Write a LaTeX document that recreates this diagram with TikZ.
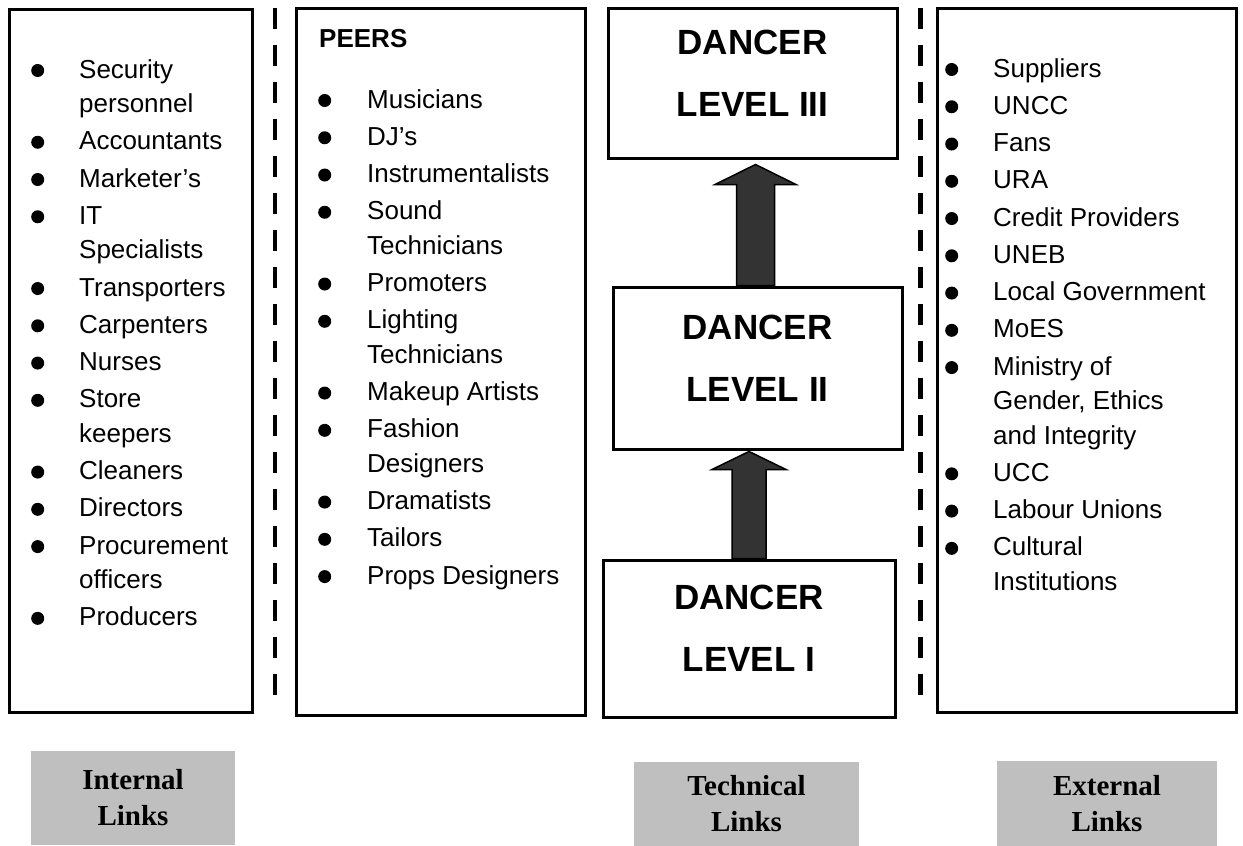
\documentclass[tikz,border=0pt]{standalone}
\usepackage{fontspec}
\setmainfont{Liberation Sans}
\newfontfamily\serifbold{Liberation Serif}
\usepackage{array}
\usetikzlibrary{calc}

\definecolor{linkgray}{RGB}{191,191,191}
\definecolor{arrowfill}{RGB}{51,51,51}
\newcommand{\blt}{\tikz[baseline=-7.5pt]\fill (6.5pt,0pt) circle (6.5pt);}
\newcommand{\listfont}{\fontsize{26}{34.5}\selectfont}
\renewcommand{\arraystretch}{1.08}

\begin{document}
\begin{tikzpicture}[x=1pt,y=1pt,
    box/.style={draw, line width=3pt, inner sep=0pt},
    level/.style={box, font=\fontsize{35}{62}\selectfont\bfseries, align=center, text depth=20pt},
    itemlist/.style={anchor=base west, inner sep=0pt, font=\listfont},
    divider/.style={line width=4.5pt, dash pattern=on 21pt off 16pt},
    uparrow/.style={draw=black, fill=arrowfill, line width=1.5pt, line join=miter},
    linkbox/.style={fill=linkgray, inner sep=0pt, align=center,
        font=\fontsize{29}{36}\selectfont\serifbold\bfseries}]
    \useasboundingbox (0,0) rectangle (1243,-846);
    % Outer columns
    \node[box, minimum width=243pt, minimum height=703pt] (intbox) at (130.5,-360.5) {};
    \node[box, minimum width=289pt, minimum height=707pt] (peerbox) at (440.5,-361.5) {};
    \node[box, minimum width=299pt, minimum height=704pt] (extbox) at (1086.5,-360) {};
    % Separators
    \draw[divider] (275,-8) -- (275,-695);
    \draw[divider] (920.5,-8) -- (920.5,-695);
    % Internal links
    \node[itemlist] (intlist) at (31,-78) {%
        \begin{tabular}[t]{@{}p{48pt}@{}p{175pt}@{}}
        \blt & Security\newline personnel\\
        \blt & Accountants\\
        \blt & Marketer’s\\
        \blt & IT\newline Specialists\\
        \blt & Transporters\\
        \blt & Carpenters\\
        \blt & Nurses\\
        \blt & Store\newline keepers\\
        \blt & Cleaners\\
        \blt & Directors\\
        \blt & Procurement\newline officers\\
        \blt & Producers
        \end{tabular}};
    % Peers
    \node[anchor=base west, inner sep=0pt, font=\fontsize{26}{30}\selectfont\bfseries]
        (peerhead) at (319,-47) {PEERS};
    \node[itemlist] (peerlist) at (318,-108) {%
        \begin{tabular}[t]{@{}p{49pt}@{}p{215pt}@{}}
        \blt & Musicians\\
        \blt & DJ’s\\
        \blt & Instrumentalists\\
        \blt & Sound\newline Technicians\\
        \blt & Promoters\\
        \blt & Lighting\newline Technicians\\
        \blt & Makeup Artists\\
        \blt & Fashion\newline Designers\\
        \blt & Dramatists\\
        \blt & Tailors\\
        \blt & Props Designers
        \end{tabular}};
    % External links
    \node[itemlist] (extlist) at (945,-77) {%
        \begin{tabular}[t]{@{}p{48pt}@{}p{240pt}@{}}
        \blt & Suppliers\\
        \blt & UNCC\\
        \blt & Fans\\
        \blt & URA\\
        \blt & Credit Providers\\
        \blt & UNEB\\
        \blt & Local Government\\
        \blt & MoES\\
        \blt & Ministry of\newline Gender, Ethics\newline and Integrity\\
        \blt & UCC\\
        \blt & Labour Unions\\
        \blt & Cultural\newline Institutions
        \end{tabular}};
    % Dancer levels
    \node[level, minimum width=289pt, minimum height=150pt] (lvlthree) at (752.5,-83) {DANCER\\LEVEL III};
    \node[level, minimum width=289pt, minimum height=162pt] (lvltwo) at (757.5,-368) {DANCER\\LEVEL II};
    \node[level, minimum width=292pt, minimum height=157pt] (lvlone) at (749,-638.5) {DANCER\\LEVEL I};
    % Progression arrows
    \path[uparrow] let \p1=(lvltwo.north), \p2=(lvlthree.south) in
        (\x1-21pt,\y1) -- (\x1-21pt,\y2-25pt) -- (\x1-42.5pt,\y2-25pt) -- (\x1-2pt,\y2-5pt)
        -- (\x1+38.5pt,\y2-25pt) -- (\x1+17pt,\y2-25pt) -- (\x1+17pt,\y1) -- cycle;
    \path[uparrow] let \p1=(lvlone.north), \p2=(lvltwo.south) in
        (\x1-17pt,\y1) -- (\x1-17pt,\y2-19pt) -- (\x1-37pt,\y2-19pt) -- (\x1,\y2-1pt)
        -- (\x1+37pt,\y2-19pt) -- (\x1+17pt,\y2-19pt) -- (\x1+17pt,\y1) -- cycle;
    % Link labels
    \node[linkbox, minimum width=204pt, minimum height=94pt] (intlink) at (133,-798) {Internal\\Links};
    \node[linkbox, minimum width=225pt, minimum height=84pt] (techlink) at (746.5,-804) {Technical\\Links};
    \node[linkbox, minimum width=220pt, minimum height=85pt] (extlink) at (1107,-803.5) {External\\Links};
\end{tikzpicture}
\end{document}
